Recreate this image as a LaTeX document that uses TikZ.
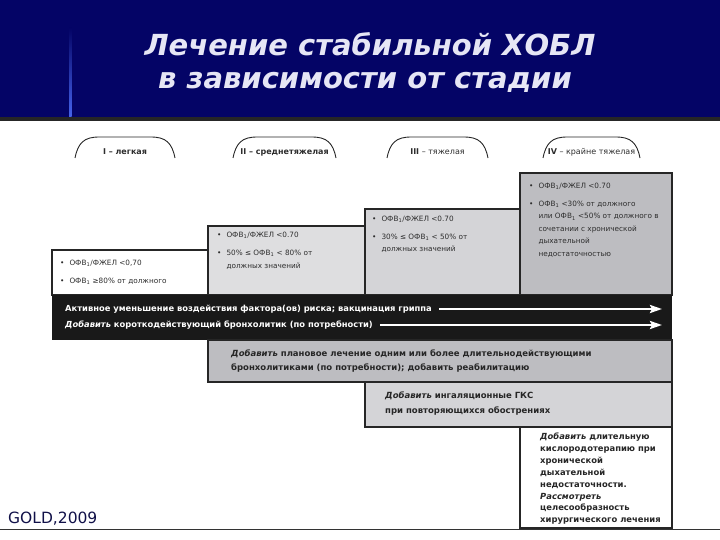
\documentclass[tikz,border=0pt]{standalone}
\usepackage{fontspec}
\setmainfont{DejaVu Sans}
\newfontfamily\titlefont{DejaVu Sans}
\usetikzlibrary{arrows.meta}
\usepackage{xcolor}

\definecolor{banner}{RGB}{4,4,102}
\definecolor{titletext}{RGB}{230,230,245}
\definecolor{sideblue}{RGB}{70,100,235}
\definecolor{goldblue}{RGB}{16,16,72}
\definecolor{boxlight}{RGB}{222,222,224}
\definecolor{boxmid}{RGB}{212,212,215}
\definecolor{boxdark}{RGB}{189,189,193}
\definecolor{inktext}{RGB}{45,45,45}

\tikzset{
  stagebox/.style={draw=black!85, line width=1.1pt},
  crittext/.style={anchor=base west, inner sep=0pt, text=inktext, font=\fontsize{7.3}{12.5}\selectfont},
  addtext/.style={anchor=base west, inner sep=0pt, text=black!85, font=\bfseries\fontsize{8.5}{14}\selectfont},
  bandtext/.style={anchor=west, inner sep=0pt, text=white, font=\bfseries\fontsize{8.35}{10}\selectfont},
  bandarrow/.style={draw=white, line width=2.6pt, -{Stealth[length=12pt,width=8pt,inset=2pt]}},
  tabline/.style={draw=black!85, line width=0.9pt},
  tablabel/.style={inner sep=0pt, text=inktext, font=\fontsize{8}{9}\selectfont},
}

\begin{document}
\begin{tikzpicture}[x=1pt, y=-1pt]

    \useasboundingbox (0,0) rectangle (720,540);

    % 1. Title banner
    \fill[banner] (0,0) rectangle (720,117);
    \fill[black!85] (0,117) rectangle (720,121);
    \shade[top color=banner, bottom color=sideblue] (69,28) rectangle (71.5,117);
    \node[text=titletext, font=\titlefont\bfseries\itshape\fontsize{29}{36}\selectfont] (title1) at (370,44) {Лечение стабильной ХОБЛ};
    \node[text=titletext, font=\titlefont\bfseries\itshape\fontsize{29}{36}\selectfont] (title2) at (365,82) {в зависимости от стадии};

    % 2. Stage tabs
    \foreach \i/\xl/\xr/\lbl in {
        1/75/175/{\textbf{I – легкая}},
        2/233/336/{\textbf{II – среднетяжелая}},
        3/387/488/{\textbf{III} – тяжелая},
        4/543/640/{\textbf{IV} – крайне тяжелая}%
    } {
        \draw[tabline] (\xl,158) .. controls (\xl+3,143) and (\xl+9,137) .. (\xl+24,137)
            -- (\xr-24,137) .. controls (\xr-9,137) and (\xr-3,143) .. (\xr,158);
        \node[tablabel] (tab\i) at ({(\xl+\xr)/2},152) {\lbl};
    }

    % 3. Stage boxes with criteria
    \filldraw[stagebox, fill=white]    (52,250)  rectangle (208,295);
    \filldraw[stagebox, fill=boxlight] (208,226) rectangle (365,295);
    \filldraw[stagebox, fill=boxmid]   (365,209) rectangle (520,295);
    \filldraw[stagebox, fill=boxdark]  (520,173) rectangle (672,295);

    \node[crittext] (crit1) at (60,265.5) {\begin{tabular}[t]{@{}l@{\hspace{5pt}}l@{}}
        \textbullet & ОФВ\textsubscript{1}/ФЖЕЛ <0,70\\[5.5pt]
        \textbullet & ОФВ\textsubscript{1} ≥80\% от должного
    \end{tabular}};
    \node[crittext] (crit2) at (217,237.5) {\begin{tabular}[t]{@{}l@{\hspace{5pt}}l@{}}
        \textbullet & ОФВ\textsubscript{1}/ФЖЕЛ <0.70\\[5.5pt]
        \textbullet & 50\% ≤ ОФВ\textsubscript{1} < 80\% от\\
                    & должных значений
    \end{tabular}};
    \node[crittext] (crit3) at (372,221.5) {\begin{tabular}[t]{@{}l@{\hspace{5pt}}l@{}}
        \textbullet & ОФВ\textsubscript{1}/ФЖЕЛ <0.70\\[5.5pt]
        \textbullet & 30\% ≤ ОФВ\textsubscript{1} < 50\% от\\
                    & должных значений
    \end{tabular}};
    \node[crittext] (crit4) at (529,188.5) {\begin{tabular}[t]{@{}l@{\hspace{5pt}}l@{}}
        \textbullet & ОФВ\textsubscript{1}/ФЖЕЛ <0.70\\[5.5pt]
        \textbullet & ОФВ\textsubscript{1} <30\% от должного\\
                    & или ОФВ\textsubscript{1} <50\% от должного в\\
                    & сочетании с хронической\\
                    & дыхательной\\
                    & недостаточностью
    \end{tabular}};

    % 4. Black band with arrows across all stages
    \fill[black!90] (52,295) rectangle (672,340);
    \coordinate (bandend) at (662,0);
    \node[bandtext] (risk) at (65,309) {Активное уменьшение воздействия фактора(ов) риска; вакцинация гриппа};
    \node[bandtext] (short) at (65,325) {\textit{Добавить} короткодействующий бронхолитик (по потребности)};
    \draw[bandarrow] ([xshift=7pt]risk.east) -- (risk.east -| bandend);
    \draw[bandarrow] ([xshift=7pt]short.east) -- (short.east -| bandend);

    % 5. Added treatment steps
    \filldraw[stagebox, fill=boxdark] (208,340) rectangle (672,382);
    \filldraw[stagebox, fill=boxmid]  (365,382) rectangle (672,427);
    \filldraw[stagebox, fill=white]   (520,427) rectangle (672,528);

    \node[addtext] (longact) at (231,356.5) {\begin{tabular}[t]{@{}l@{}}
        \textit{Добавить} плановое лечение одним или более длительнодействующими\\
        бронхолитиками (по потребности); добавить реабилитацию
    \end{tabular}};
    \node[addtext] (ics) at (385,398.5) {\begin{tabular}[t]{@{}l@{}}
        \textit{Добавить} ингаляционные ГКС\\[1pt]
        при повторяющихся обострениях
    \end{tabular}};
    \node[addtext, font=\bfseries\fontsize{8.4}{11.9}\selectfont] (oxygen) at (540,439.5) {\begin{tabular}[t]{@{}l@{}}
        \textit{Добавить} длительную\\
        кислородотерапию при\\
        хронической\\
        дыхательной\\
        недостаточности.\\
        \textit{Рассмотреть}\\
        целесообразность\\
        хирургического лечения
    \end{tabular}};

    % 6. Footer
    \draw[black!80, line width=1pt] (0,529) -- (720,529);
    \node[anchor=west, inner sep=0pt, text=goldblue, font=\titlefont\fontsize{15.5}{18}\selectfont] (source) at (8,519) {GOLD,2009};

\end{tikzpicture}
\end{document}
